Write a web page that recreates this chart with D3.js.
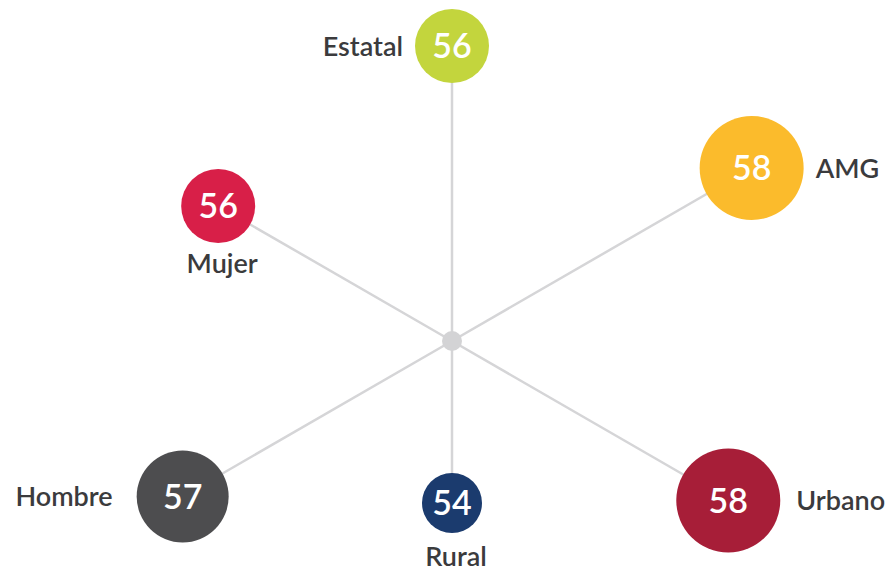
<!DOCTYPE html>
<html>
<head>
<meta charset="utf-8">
<script src="https://cdn.jsdelivr.net/npm/d3@7"></script>
<style>
	body { margin: 0; background: #fff; }
	svg { display: block; }
</style>
</head>
<body>
<script>
// categories, clockwise from the top spoke
var categories = ["Estatal", "AMG", "Urbano", "Rural", "Hombre", "Mujer"]
var values = [56, 58, 58, 54, 57, 56]
var colors = ["#c3d53d", "#fbbb2c", "#a71e38", "#1b3b6e", "#4d4d4f", "#d81f48"]

// layout only: spoke length, which side the label sits on, gap to the circle
var spokeLen = [295, 346, 319, 162, 311, 270]
var labelSide = ["left", "right", "right", "below", "left", "below"]
var labelGap = [12, 12, 16, 33, 24, 30]

var width = 891, height = 573
var cx = 452, cy = 341

var svg = d3.select("body")
	.append("svg")
	.attr("width", width)
	.attr("height", height)

var angle = d3.scaleLinear().domain([0, categories.length]).range([-Math.PI / 2, Math.PI * 1.5])
var radius = d3.scaleLinear().domain([54, 56, 57, 58]).range([30, 37, 46, 52])

var nodes = categories.map((c, i) => {
	var a = angle(i)
	return {
		name: c,
		value: values[i],
		color: colors[i],
		x: cx + Math.cos(a) * spokeLen[i],
		y: cy + Math.sin(a) * spokeLen[i],
		r: radius(values[i]),
		side: labelSide[i],
		gap: labelGap[i]
	}
})

svg.selectAll(".spoke")
	.data(nodes)
	.enter()
	.append("line")
		.attr("class", "spoke")
		.attr("x1", cx)
		.attr("y1", cy)
		.attr("x2", (d) => d.x)
		.attr("y2", (d) => d.y)
		.attr("stroke", "#d5d5d7")
		.attr("stroke-width", 2.5)

svg.append("circle")
	.attr("cx", cx)
	.attr("cy", cy)
	.attr("r", 10)
	.attr("fill", "#d3d3d5")

var node = svg.selectAll("g.node")
	.data(nodes)
	.enter()
	.append("g")
		.attr("class", "node")
		.attr("transform", (d) => "translate(" + d.x + "," + d.y + ")")

node.append("circle")
	.attr("r", (d) => d.r)
	.attr("fill", (d) => d.color)

node.append("text")
	.attr("text-anchor", "middle")
	.attr("dy", "0.36em")
	.attr("fill", "#fff")
	.style("font-family", "Lato, 'Open Sans', sans-serif")
	.style("font-size", "34px")
	.style("font-weight", 600)
	.text((d) => d.value)

node.append("text")
	.attr("text-anchor", (d) => d.side == "left" ? "end" : d.side == "right" ? "start" : "middle")
	.attr("x", (d) => d.side == "left" ? -(d.r + d.gap) : d.side == "right" ? d.r + d.gap : 4)
	.attr("y", (d) => d.side == "below" ? d.r + d.gap : 0)
	.attr("dy", (d) => d.side == "below" ? 0 : "0.36em")
	.attr("fill", "#3b3b3d")
	.style("font-family", "Lato, 'Open Sans', sans-serif")
	.style("font-size", "27px")
	.style("font-weight", 600)
	.text((d) => d.name)
</script>
</body>
</html>
